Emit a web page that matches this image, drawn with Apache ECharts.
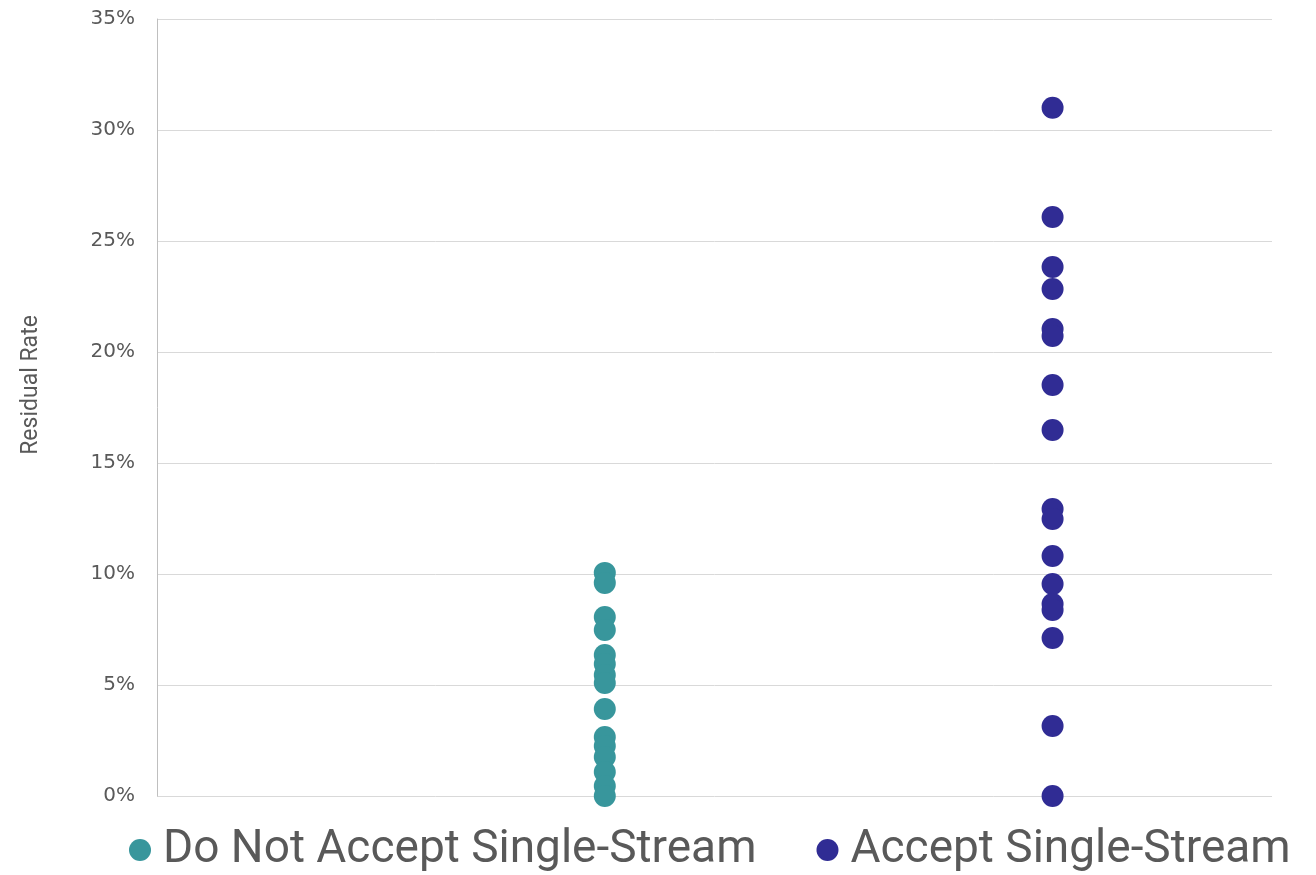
<!DOCTYPE html>
<html>
<head>
<meta charset="utf-8">
<script src="https://cdn.jsdelivr.net/npm/echarts@6/dist/echarts.min.js"></script>
<style>html,body{margin:0;padding:0;background:#fff}#c{width:1316px;height:875px}</style>
</head>
<body>
<div id="c"></div>
<script>
var seriesNames = ['Do Not Accept Single-Stream', 'Accept Single-Stream'];
var groupX = [1, 2];
var notAccept = [10.05, 9.6, 8.06, 7.48, 6.35, 5.95, 5.45, 5.09, 3.92, 2.66, 2.25, 1.76, 1.08, 0.45, 0.0];
var accept = [31.0, 26.08, 23.83, 22.84, 21.04, 20.72, 18.51, 16.49, 12.93, 12.48, 10.81, 9.55, 8.65, 8.38, 7.12, 3.15, 0.0];
var yTicks = [0, 5, 10, 15, 20, 25, 30, 35];
var yTitle = 'Residual Rate';
var colors = ['#38969c', '#302c94'];

var chart = echarts.init(document.getElementById('c'));
function pts(x, arr) { return arr.map(function (v) { return [x, v]; }); }
chart.setOption({
  animation: false,
  grid: { left: 157, right: 44, top: 19, bottom: 79, containLabel: false },
  legend: {
    left: 124, top: 822,
    icon: 'circle', itemWidth: 22, itemHeight: 22, itemGap: 60,
    textStyle: { fontFamily: 'Roboto, sans-serif', fontSize: 46, color: '#595959', padding: [0, 0, 0, 7] },
    data: seriesNames
  },
  graphic: [{
    type: 'text', x: 31, y: 385, rotation: Math.PI / 2,
    style: { text: yTitle, font: '23px Roboto, sans-serif', fill: '#595959', align: 'center', verticalAlign: 'middle' }
  }],
  xAxis: { type: 'value', min: 0, max: 2.49, show: false },
  yAxis: {
    type: 'value', min: yTicks[0], max: yTicks[yTicks.length - 1], interval: 5,
    axisLine: { show: true, lineStyle: { color: '#bfbfbf', width: 1 } },
    axisTick: { show: false },
    axisLabel: { formatter: '{value}%', fontFamily: 'DejaVu Sans, Verdana, sans-serif', fontSize: 20, color: '#595959', margin: 22 },
    splitLine: { lineStyle: { color: '#d9d9d9', width: 1 } }
  },
  series: [
    { name: seriesNames[0], type: 'scatter', symbolSize: 22, itemStyle: { color: colors[0], opacity: 1 }, data: pts(groupX[0], notAccept) },
    { name: seriesNames[1], type: 'scatter', symbolSize: 22, itemStyle: { color: colors[1], opacity: 1 }, data: pts(groupX[1], accept) }
  ]
});
</script>
</body>
</html>
